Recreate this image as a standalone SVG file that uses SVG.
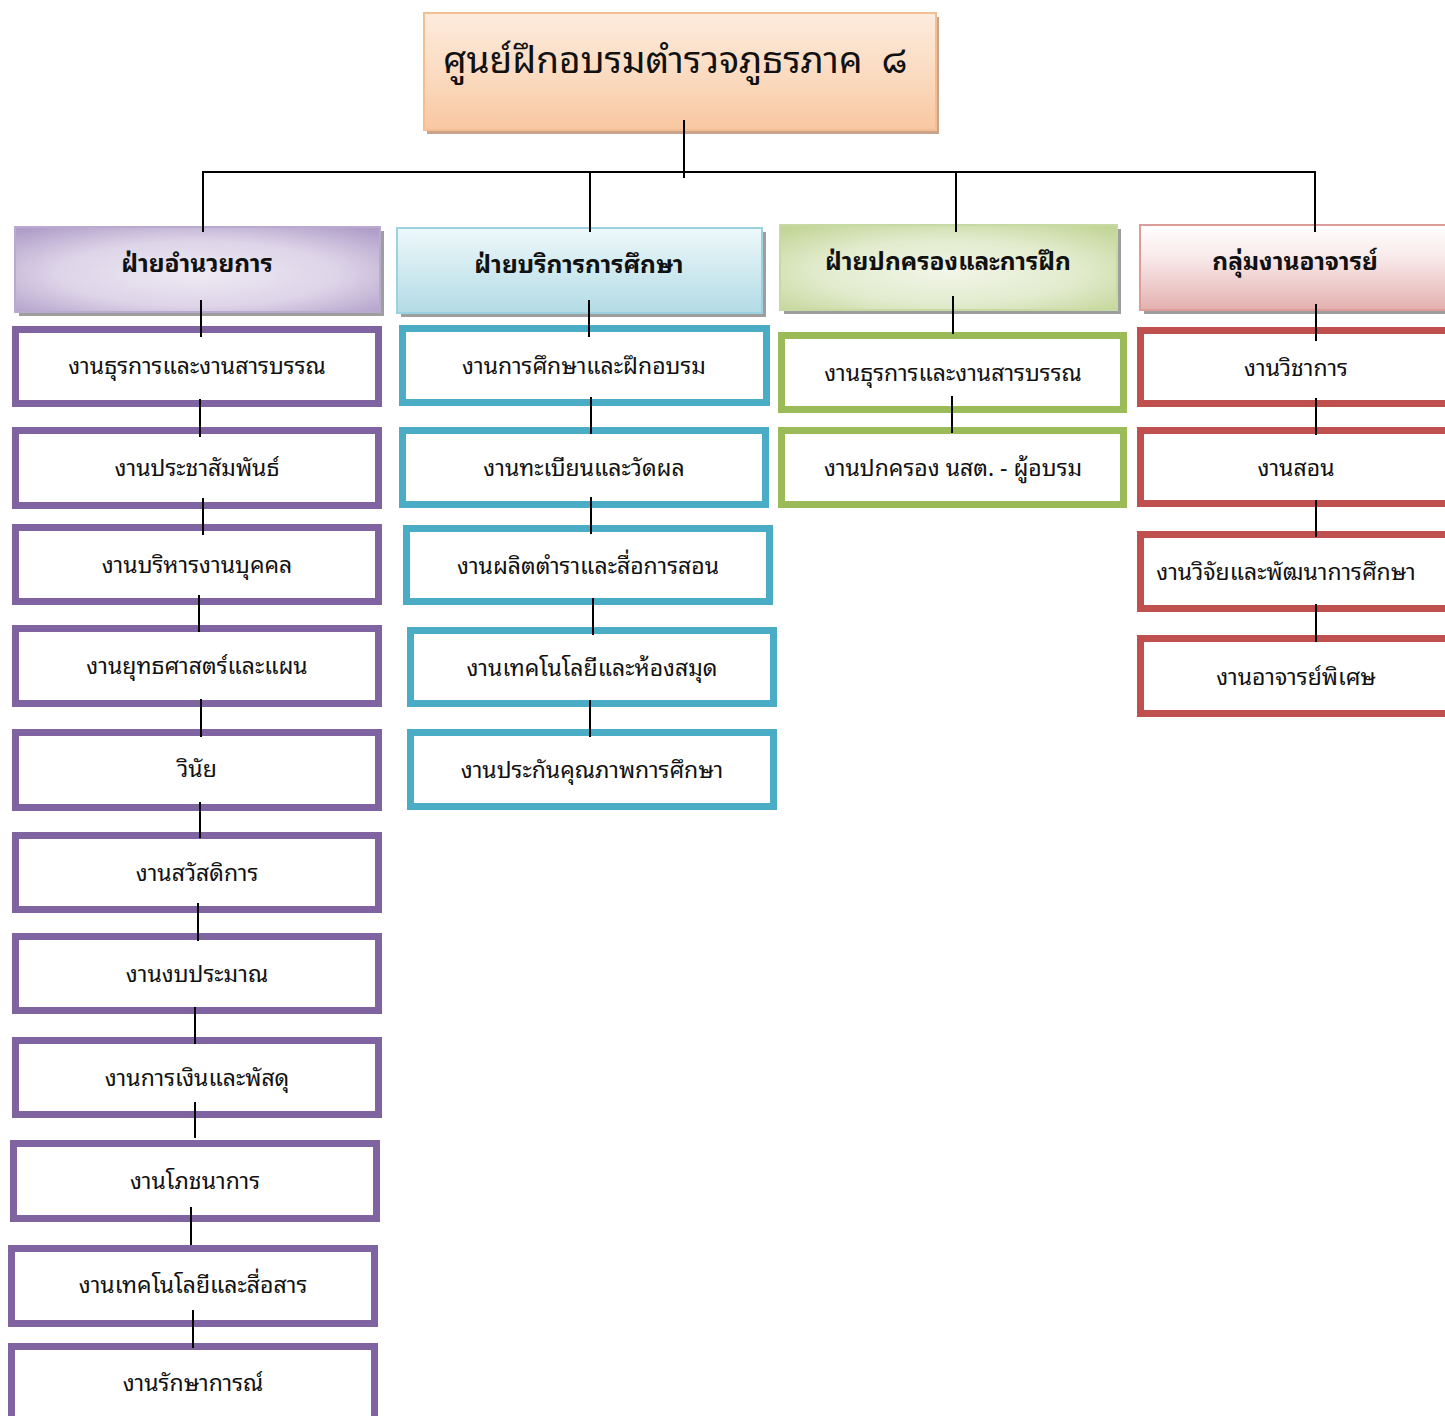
<svg xmlns="http://www.w3.org/2000/svg" width="1445" height="1416" viewBox="0 0 1445 1416">
<defs>
<linearGradient id="gTitle" x1="0" y1="0" x2="0" y2="1"><stop offset="0" stop-color="#FDEBDC"/><stop offset="0.5" stop-color="#FBDCC2"/><stop offset="1" stop-color="#F8C7A0"/></linearGradient>
<radialGradient id="gPur" cx="0.5" cy="0.55" r="0.7"><stop offset="0" stop-color="#EEEAF4"/><stop offset="0.55" stop-color="#DDD4E8"/><stop offset="1" stop-color="#B09DC8"/></radialGradient>
<linearGradient id="gBlu" x1="0" y1="0" x2="0" y2="1"><stop offset="0" stop-color="#EEF8FA"/><stop offset="1" stop-color="#B2DBE5"/></linearGradient>
<radialGradient id="gGrn" cx="0.5" cy="0.55" r="0.7"><stop offset="0" stop-color="#F1F5E8"/><stop offset="0.55" stop-color="#E2EBCD"/><stop offset="1" stop-color="#C2D596"/></radialGradient>
<linearGradient id="gRed" x1="0" y1="0" x2="0" y2="1"><stop offset="0" stop-color="#FFFFFF"/><stop offset="0.4" stop-color="#F8E8E8"/><stop offset="1" stop-color="#E3B0AF"/></linearGradient>
</defs>
<style>
.t{font-family:"Noto Sans Thai Looped","Noto Sans Thai","Noto Sans","DejaVu Sans",sans-serif;text-anchor:middle;fill:#111}
.c{font-size:23px}
.h{font-size:24.5px;font-weight:bold}
.ti{font-size:37px}
.sh{fill:#9E9E9E}
.bp{fill:#fff;stroke:#8064A2;stroke-width:7}
.bb{fill:#fff;stroke:#4BACC6;stroke-width:7}
.bg{fill:#fff;stroke:#9BBB59;stroke-width:7}
.br{fill:#fff;stroke:#C0504D;stroke-width:7}
.ln{stroke:#000;stroke-width:2;fill:none}
</style>

<g id="title">
<rect x="427" y="17" width="512" height="117" fill="#C9A489"/>
<rect x="424" y="13" width="512" height="117" fill="url(#gTitle)" stroke="#F4BE95" stroke-width="2"/>
<text class="t ti" x="675" y="73">ศูนย์ฝึกอบรมตำรวจภูธรภาค&#160;&#160;๘</text>
</g>

<g id="h-admin">
<rect x="19" y="231" width="365" height="85" class="sh"/>
<rect x="15" y="227" width="365" height="85" fill="url(#gPur)" stroke="#B9AAD0" stroke-width="2"/>
<text class="t h" x="197" y="272">ฝ่ายอำนวยการ</text>
</g>
<g id="h-edu">
<rect x="401" y="232" width="365" height="85" class="sh"/>
<rect x="397" y="228" width="365" height="85" fill="url(#gBlu)" stroke="#9CD2DF" stroke-width="2"/>
<text class="t h" x="579" y="273">ฝ่ายบริการการศึกษา</text>
</g>
<g id="h-gov">
<rect x="784" y="229" width="337" height="85" class="sh"/>
<rect x="780" y="225" width="337" height="85" fill="url(#gGrn)" stroke="#C8DAA3" stroke-width="2"/>
<text class="t h" x="948" y="270">ฝ่ายปกครองและการฝึก</text>
</g>
<g id="h-teach">
<rect x="1144" y="229" width="320" height="85" class="sh"/>
<rect x="1140" y="225" width="320" height="85" fill="url(#gRed)" stroke="#DD9B9A" stroke-width="2"/>
<text class="t h" x="1295" y="270">กลุ่มงานอาจารย์</text>
</g>

<g id="p1"><rect class="bp" x="15.5" y="329.5" width="363" height="74"/><text class="t c" x="197" y="374">งานธุรการและงานสารบรรณ</text></g>
<g id="p2"><rect class="bp" x="15.5" y="430.5" width="363" height="75"/><text class="t c" x="197" y="476">งานประชาสัมพันธ์</text></g>
<g id="p3"><rect class="bp" x="15.5" y="527.5" width="363" height="74"/><text class="t c" x="197" y="573">งานบริหารงานบุคคล</text></g>
<g id="p4"><rect class="bp" x="15.5" y="628.5" width="363" height="75"/><text class="t c" x="197" y="674">งานยุทธศาสตร์และแผน</text></g>
<g id="p5"><rect class="bp" x="15.5" y="732.5" width="363" height="75"/><text class="t c" x="197" y="777">วินัย</text></g>
<g id="p6"><rect class="bp" x="15.5" y="835.5" width="363" height="74"/><text class="t c" x="197" y="881">งานสวัสดิการ</text></g>
<g id="p7"><rect class="bp" x="15.5" y="936.5" width="363" height="74"/><text class="t c" x="197" y="982">งานงบประมาณ</text></g>
<g id="p8"><rect class="bp" x="15.5" y="1040.5" width="363" height="74"/><text class="t c" x="197" y="1086">งานการเงินและพัสดุ</text></g>
<g id="p9"><rect class="bp" x="13.5" y="1143.5" width="363" height="75"/><text class="t c" x="195" y="1189">งานโภชนาการ</text></g>
<g id="p10"><rect class="bp" x="11.5" y="1248.5" width="363" height="75"/><text class="t c" x="193" y="1293">งานเทคโนโลยีและสื่อสาร</text></g>
<g id="p11"><rect class="bp" x="11.5" y="1346.5" width="363" height="75"/><text class="t c" x="193" y="1391">งานรักษาการณ์</text></g>

<g id="b1"><rect class="bb" x="402.5" y="328.5" width="364" height="74"/><text class="t c" x="584" y="374">งานการศึกษาและฝึกอบรม</text></g>
<g id="b2"><rect class="bb" x="402.5" y="430.5" width="363" height="74"/><text class="t c" x="584" y="476">งานทะเบียนและวัดผล</text></g>
<g id="b3"><rect class="bb" x="406.5" y="528.5" width="363" height="73"/><text class="t c" x="588" y="574">งานผลิตตำราและสื่อการสอน</text></g>
<g id="b4"><rect class="bb" x="410.5" y="630.5" width="363" height="73"/><text class="t c" x="592" y="676">งานเทคโนโลยีและห้องสมุด</text></g>
<g id="b5"><rect class="bb" x="410.5" y="732.5" width="363" height="74"/><text class="t c" x="592" y="778">งานประกันคุณภาพการศึกษา</text></g>

<g id="g1"><rect class="bg" x="781.5" y="335.5" width="342" height="74"/><text class="t c" x="953" y="381">งานธุรการและงานสารบรรณ</text></g>
<g id="g2"><rect class="bg" x="781.5" y="430.5" width="342" height="74"/><text class="t c" x="953" y="476">งานปกครอง นสต. - ผู้อบรม</text></g>

<g id="r1"><rect class="br" x="1140.5" y="330.5" width="320" height="73"/><text class="t c" x="1296" y="376">งานวิชาการ</text></g>
<g id="r2"><rect class="br" x="1140.5" y="430.5" width="320" height="73"/><text class="t c" x="1296" y="476">งานสอน</text></g>
<g id="r3"><rect class="br" x="1140.5" y="534.5" width="320" height="74"/><text class="t c" x="1286" y="580">งานวิจัยและพัฒนาการศึกษา</text></g>
<g id="r4"><rect class="br" x="1140.5" y="638.5" width="320" height="75"/><text class="t c" x="1296" y="685">งานอาจารย์พิเศษ</text></g>

<g id="connectors" class="ln">
<line x1="684" y1="120" x2="684" y2="178"/>
<line x1="202" y1="172" x2="1316" y2="172"/>
<line x1="203" y1="172" x2="203" y2="232"/>
<line x1="590" y1="172" x2="590" y2="232"/>
<line x1="956" y1="172" x2="956" y2="232"/>
<line x1="1315" y1="172" x2="1315" y2="232"/>
<line x1="201" y1="300" x2="201" y2="337"/>
<line x1="200" y1="399" x2="200" y2="437"/>
<line x1="203" y1="498" x2="203" y2="535"/>
<line x1="199" y1="595" x2="199" y2="632"/>
<line x1="201" y1="699" x2="201" y2="737"/>
<line x1="200" y1="802" x2="200" y2="838"/>
<line x1="198" y1="903" x2="198" y2="941"/>
<line x1="195" y1="1007" x2="195" y2="1044"/>
<line x1="195" y1="1102" x2="195" y2="1138"/>
<line x1="191" y1="1207" x2="191" y2="1245"/>
<line x1="193" y1="1310" x2="193" y2="1348"/>
<line x1="589" y1="300" x2="589" y2="337"/>
<line x1="591" y1="397" x2="591" y2="434"/>
<line x1="591" y1="497" x2="591" y2="534"/>
<line x1="593" y1="598" x2="593" y2="635"/>
<line x1="590" y1="700" x2="590" y2="737"/>
<line x1="953" y1="296" x2="953" y2="334"/>
<line x1="952" y1="396" x2="952" y2="433"/>
<line x1="1316" y1="304" x2="1316" y2="341"/>
<line x1="1316" y1="398" x2="1316" y2="435"/>
<line x1="1316" y1="500" x2="1316" y2="537"/>
<line x1="1316" y1="604" x2="1316" y2="642"/>
</g>
</svg>
